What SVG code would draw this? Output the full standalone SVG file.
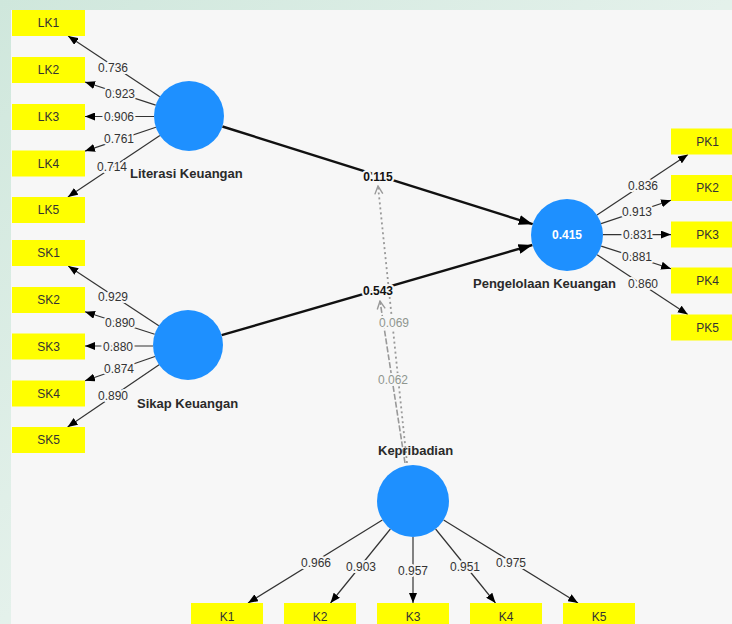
<svg xmlns="http://www.w3.org/2000/svg" width="732" height="624" viewBox="0 0 732 624">
<defs>
<linearGradient id="bgOuter" x1="0" y1="0" x2="1" y2="1">
<stop offset="0" stop-color="#cfe7dc"/>
<stop offset="0.5" stop-color="#e4f1eb"/>
<stop offset="1" stop-color="#f2f4dc"/>
</linearGradient>
<marker id="ah" viewBox="0 0 10 8" refX="10" refY="4" markerWidth="10" markerHeight="8" markerUnits="userSpaceOnUse" orient="auto">
<path d="M0,0 L10,4 L0,8 Z" fill="#000"/>
</marker>
<marker id="ahBig" viewBox="0 0 14 10" refX="14" refY="5" markerWidth="14" markerHeight="10" markerUnits="userSpaceOnUse" orient="auto">
<path d="M0,0 L14,5 L0,10 Z" fill="#000"/>
</marker>
<marker id="ahOpen" viewBox="0 0 10 10" refX="9" refY="5" markerWidth="10" markerHeight="10" markerUnits="userSpaceOnUse" orient="auto">
<path d="M1,1 L9,5 L1,9" fill="none" stroke="#999" stroke-width="1.4"/>
</marker>
</defs>
<style>
.ind{fill:#ffff00}
.indt{font-family:"Liberation Sans",Arial,sans-serif;font-size:12px;fill:#333;text-anchor:middle}
.lat{fill:#1e90ff}
.latt{font-family:"Liberation Sans",Arial,sans-serif;font-size:13px;font-weight:bold;fill:#2a2a2a}
.ld{stroke:#333;stroke-width:1.2;fill:none;marker-end:url(#ah)}
.st{stroke:#111;stroke-width:2.4;fill:none;marker-end:url(#ahBig)}
.lbl{font-family:"Liberation Sans",Arial,sans-serif;font-size:12px;fill:#333;text-anchor:middle;stroke:#f7f7f7;stroke-width:4;paint-order:stroke;stroke-linejoin:round}
.slbl{font-family:"Liberation Sans",Arial,sans-serif;font-size:12px;font-weight:bold;fill:#111;text-anchor:middle;stroke:#f7f7f7;stroke-width:4;paint-order:stroke;stroke-linejoin:round}
.mlbl{font-family:"Liberation Sans",Arial,sans-serif;font-size:12px;fill:#8f968f;text-anchor:middle;stroke:#f7f7f7;stroke-width:4;paint-order:stroke;stroke-linejoin:round}
.mod1{stroke:#999;stroke-width:1.8;fill:none;stroke-dasharray:2 3;marker-end:url(#ahOpen)}
.mod2{stroke:#999;stroke-width:1.6;fill:none;stroke-dasharray:6 2;marker-end:url(#ahOpen)}
</style>
<rect x="0" y="0" width="732" height="624" fill="url(#bgOuter)"/>
<rect x="11" y="10" width="721" height="614" fill="#f7f7f7"/>

<g id="connectors">
<line class="ld" x1="159.8" y1="96.7" x2="68.1" y2="36"/>
<line class="ld" x1="155.7" y1="105.1" x2="85" y2="82"/>
<line class="ld" x1="154" y1="116.5" x2="85" y2="116.5"/>
<line class="ld" x1="155.9" y1="127.2" x2="85" y2="151.1"/>
<line class="ld" x1="159.9" y1="135.5" x2="67.9" y2="197"/>
<line class="ld" x1="158.8" y1="325.7" x2="68.2" y2="266"/>
<line class="ld" x1="154.7" y1="334.3" x2="85" y2="311.8"/>
<line class="ld" x1="153" y1="346" x2="85" y2="346"/>
<line class="ld" x1="155" y1="356.5" x2="85" y2="380.8"/>
<line class="ld" x1="159.1" y1="364.7" x2="67.6" y2="427"/>
<line class="ld" x1="597" y1="215.1" x2="688" y2="154.5"/>
<line class="ld" x1="601.1" y1="223.6" x2="671" y2="200.2"/>
<line class="ld" x1="603" y1="234.6" x2="671" y2="234.6"/>
<line class="ld" x1="601.2" y1="246.1" x2="671" y2="268.7"/>
<line class="ld" x1="597.1" y1="254.8" x2="687.8" y2="314.5"/>
<line class="ld" x1="382.4" y1="519.9" x2="248" y2="603"/>
<line class="ld" x1="390.4" y1="529" x2="330.5" y2="603"/>
<line class="ld" x1="413" y1="537" x2="413" y2="603"/>
<line class="ld" x1="435.6" y1="529" x2="495.5" y2="603"/>
<line class="ld" x1="443.6" y1="519.9" x2="578" y2="603"/>
<line class="st" x1="222.4" y1="126.5" x2="532.7" y2="224.2"/>
<line class="st" x1="221.6" y1="335.2" x2="532.4" y2="245"/>
<line class="mod1" x1="407" y1="463" x2="378" y2="186"/>
<line class="mod2" x1="405" y1="463" x2="380" y2="301"/>
<text class="lbl" x="113" y="72">0.736</text>
<text class="lbl" x="120" y="98">0.923</text>
<text class="lbl" x="119" y="121">0.906</text>
<text class="lbl" x="119" y="143">0.761</text>
<text class="lbl" x="112" y="171">0.714</text>
<text class="lbl" x="113" y="301">0.929</text>
<text class="lbl" x="120" y="327">0.890</text>
<text class="lbl" x="118" y="351">0.880</text>
<text class="lbl" x="119" y="373">0.874</text>
<text class="lbl" x="113" y="400">0.890</text>
<text class="lbl" x="643" y="190">0.836</text>
<text class="lbl" x="637" y="216">0.913</text>
<text class="lbl" x="638" y="239">0.831</text>
<text class="lbl" x="637" y="261">0.881</text>
<text class="lbl" x="643" y="288">0.860</text>
<text class="lbl" x="316" y="567">0.966</text>
<text class="lbl" x="361" y="571">0.903</text>
<text class="lbl" x="413" y="575">0.957</text>
<text class="lbl" x="465" y="571">0.951</text>
<text class="lbl" x="511" y="567">0.975</text>
<text class="slbl" x="378" y="181">0.115</text>
<text class="slbl" x="378" y="295">0.543</text>
<text class="mlbl" x="394" y="327">0.069</text>
<text class="mlbl" x="393" y="384">0.062</text>
</g>

<g id="LK">
<circle class="lat" cx="189" cy="116" r="35"/>
<text class="latt" x="130" y="178">Literasi Keuangan</text>
</g>
<g id="SK">
<circle class="lat" cx="188" cy="345" r="35"/>
<text class="latt" x="137" y="408">Sikap Keuangan</text>
</g>
<g id="PK">
<circle class="lat" cx="567" cy="235" r="36"/>
<text x="567" y="239" font-family="Liberation Sans, Arial, sans-serif" font-size="12" font-weight="bold" fill="#fff" text-anchor="middle">0.415</text>
<text class="latt" x="473" y="288">Pengelolaan Keuangan</text>
</g>
<g id="K">
<circle class="lat" cx="413" cy="501" r="36"/>
<text class="latt" x="378" y="455">Kepribadian</text>
</g>

<g id="LK1"><rect class="ind" x="12" y="10" width="73" height="26"/><text class="indt" x="48.5" y="27">LK1</text></g>
<g id="LK2"><rect class="ind" x="12" y="57" width="73" height="26"/><text class="indt" x="48.5" y="74">LK2</text></g>
<g id="LK3"><rect class="ind" x="12" y="104" width="73" height="26"/><text class="indt" x="48.5" y="121">LK3</text></g>
<g id="LK4"><rect class="ind" x="12" y="150.5" width="73" height="26"/><text class="indt" x="48.5" y="167.5">LK4</text></g>
<g id="LK5"><rect class="ind" x="12" y="197" width="73" height="26"/><text class="indt" x="48.5" y="214">LK5</text></g>

<g id="SK1"><rect class="ind" x="12" y="240" width="73" height="26"/><text class="indt" x="48.5" y="257">SK1</text></g>
<g id="SK2"><rect class="ind" x="12" y="287" width="73" height="26"/><text class="indt" x="48.5" y="304">SK2</text></g>
<g id="SK3"><rect class="ind" x="12" y="333.5" width="73" height="26"/><text class="indt" x="48.5" y="350.5">SK3</text></g>
<g id="SK4"><rect class="ind" x="12" y="380.5" width="73" height="26"/><text class="indt" x="48.5" y="397.5">SK4</text></g>
<g id="SK5"><rect class="ind" x="12" y="427" width="73" height="26"/><text class="indt" x="48.5" y="444">SK5</text></g>

<g id="PK1"><rect class="ind" x="671" y="128.5" width="73" height="26"/><text class="indt" x="707.5" y="145.5">PK1</text></g>
<g id="PK2"><rect class="ind" x="671" y="175" width="73" height="26"/><text class="indt" x="707.5" y="192">PK2</text></g>
<g id="PK3"><rect class="ind" x="671" y="221.5" width="73" height="26"/><text class="indt" x="707.5" y="238.5">PK3</text></g>
<g id="PK4"><rect class="ind" x="671" y="267.5" width="73" height="26"/><text class="indt" x="707.5" y="284.5">PK4</text></g>
<g id="PK5"><rect class="ind" x="671" y="314.5" width="73" height="26"/><text class="indt" x="707.5" y="331.5">PK5</text></g>

<g id="K1"><rect class="ind" x="191" y="603" width="72" height="26"/><text class="indt" x="227" y="621">K1</text></g>
<g id="K2"><rect class="ind" x="284" y="603" width="72" height="26"/><text class="indt" x="320" y="621">K2</text></g>
<g id="K3"><rect class="ind" x="377" y="603" width="72" height="26"/><text class="indt" x="413" y="621">K3</text></g>
<g id="K4"><rect class="ind" x="470" y="603" width="72" height="26"/><text class="indt" x="506" y="621">K4</text></g>
<g id="K5"><rect class="ind" x="563" y="603" width="72" height="26"/><text class="indt" x="599" y="621">K5</text></g>
</svg>
